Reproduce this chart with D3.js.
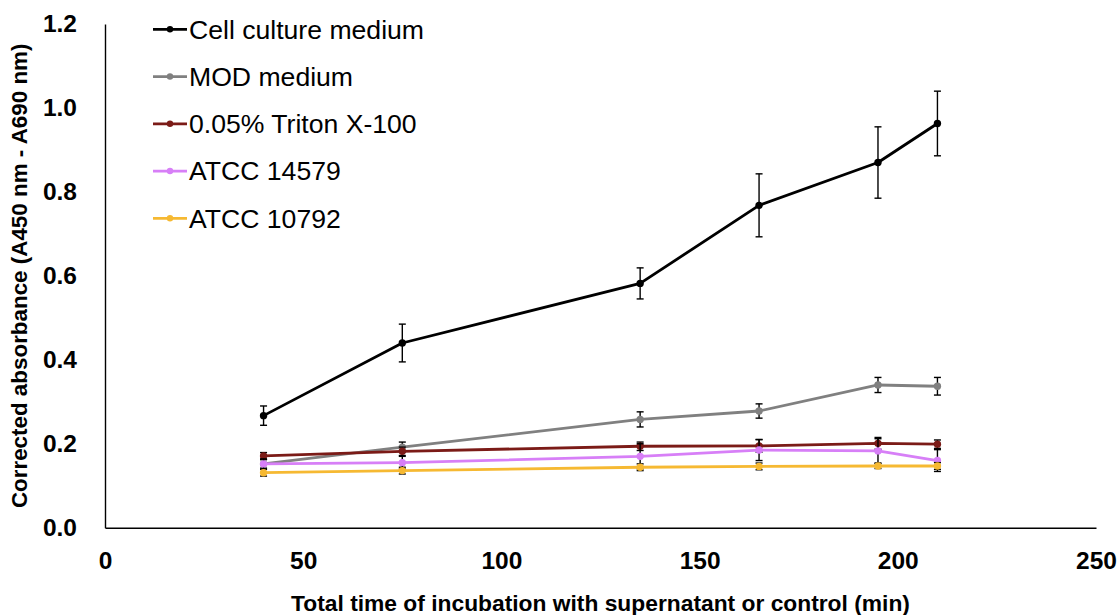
<!DOCTYPE html>
<html>
<head>
<meta charset="utf-8">
<script src="https://cdn.jsdelivr.net/npm/d3@7"></script>
<style>
  html, body { margin: 0; padding: 0; background: #fff; }
  svg { display: block; }
</style>
</head>
<body>
<svg id="chart" width="1120" height="615"></svg>
<script>
// Incubation time points (min)
const times = [40, 75, 135, 165, 195, 210];

// Mean corrected absorbance and error (SD) per condition
const cellCulture      = [0.267, 0.440, 0.582, 0.768, 0.870, 0.963];
const cellCultureErr   = [0.023, 0.045, 0.037, 0.075, 0.085, 0.077];
const modMedium        = [0.152, 0.192, 0.258, 0.278, 0.340, 0.337];
const modMediumErr     = [0.010, 0.012, 0.018, 0.017, 0.018, 0.021];
const triton           = [0.171, 0.182, 0.194, 0.195, 0.201, 0.199];
const tritonErr        = [0.008, 0.010, 0.010, 0.015, 0.014, 0.010];
const atcc14579        = [0.152, 0.155, 0.170, 0.185, 0.183, 0.160];
const atcc14579Err     = [0.012, 0.015, 0.030, 0.025, 0.029, 0.026];
const atcc10792        = [0.131, 0.136, 0.144, 0.146, 0.147, 0.147];
const atcc10792Err     = [0.008, 0.008, 0.008, 0.008, 0.006, 0.008];

const seriesNames  = ["Cell culture medium", "MOD medium", "0.05% Triton X-100", "ATCC 14579", "ATCC 10792"];
const seriesColors = ["#000000", "#808080", "#7b1b17", "#d77ff7", "#f6b932"];
const seriesValues = [cellCulture, modMedium, triton, atcc14579, atcc10792];
const seriesErrors = [cellCultureErr, modMediumErr, tritonErr, atcc14579Err, atcc10792Err];

const xTicks = [0, 50, 100, 150, 200, 250];
const yTicks = [0.0, 0.2, 0.4, 0.6, 0.8, 1.0, 1.2];

const svg = d3.select("#chart");
const FONT = "'Liberation Sans', Arial, sans-serif";

const x = d3.scaleLinear().domain([0, 250]).range([105, 1096]);
const y = d3.scaleLinear().domain([0, 1.2]).range([527.7, 24]);

// Axes (no tick marks, bold labels)
const xAxis = d3.axisBottom(x).tickValues(xTicks).tickSize(0).tickPadding(24)
  .tickFormat(d3.format("d"));
const yAxis = d3.axisLeft(y).tickValues(yTicks).tickSize(0).tickPadding(28)
  .tickFormat(d3.format(".1f"));

const gx = svg.append("g").attr("transform", `translate(0,${y(0)})`).call(xAxis);
const gy = svg.append("g").attr("transform", `translate(${x(0)},0)`).call(yAxis);
[gx, gy].forEach(g => {
  g.select(".domain").attr("stroke", "#000").attr("stroke-width", 1.4);
  g.selectAll("text").attr("font-family", FONT).attr("font-weight", "bold")
    .attr("font-size", 24.5).attr("fill", "#000");
});
gx.selectAll("text").attr("dy", "0.71em");

// Axis titles
svg.append("text")
  .attr("x", (x(0) + x(250)) / 2).attr("y", 611)
  .attr("text-anchor", "middle")
  .attr("font-family", FONT).attr("font-weight", "bold").attr("font-size", 22.8)
  .text("Total time of incubation with supernatant or control (min)");

svg.append("text")
  .attr("transform", `translate(27,${(y(0) + y(1.2)) / 2}) rotate(-90)`)
  .attr("text-anchor", "middle")
  .attr("font-family", FONT).attr("font-weight", "bold").attr("font-size", 22.4)
  .text("Corrected absorbance (A450 nm - A690 nm)");

// Series: line, error bars, markers
const line = d3.line().x(d => x(d.t)).y(d => y(d.v));
const plot = svg.append("g");

seriesNames.forEach((name, i) => {
  const pts = times.map((t, j) => ({ t, v: seriesValues[i][j], e: seriesErrors[i][j] }));
  const g = plot.append("g");

  g.append("path").datum(pts)
    .attr("d", line)
    .attr("fill", "none")
    .attr("stroke", seriesColors[i])
    .attr("stroke-width", 2.8)
    .attr("stroke-linejoin", "round");

  const eb = g.selectAll(".err").data(pts).join("g").attr("class", "err")
    .attr("stroke", "#000").attr("stroke-width", 1.4);
  eb.append("line")
    .attr("x1", d => x(d.t)).attr("x2", d => x(d.t))
    .attr("y1", d => y(d.v - d.e)).attr("y2", d => y(d.v + d.e));
  eb.append("line")
    .attr("x1", d => x(d.t) - 3.5).attr("x2", d => x(d.t) + 3.5)
    .attr("y1", d => y(d.v + d.e)).attr("y2", d => y(d.v + d.e));
  eb.append("line")
    .attr("x1", d => x(d.t) - 3.5).attr("x2", d => x(d.t) + 3.5)
    .attr("y1", d => y(d.v - d.e)).attr("y2", d => y(d.v - d.e));

  g.selectAll("circle").data(pts).join("circle")
    .attr("cx", d => x(d.t)).attr("cy", d => y(d.v))
    .attr("r", 3.7)
    .attr("fill", seriesColors[i]);
});

// Legend
const legend = svg.append("g").attr("transform", "translate(153,29.3)");
seriesNames.forEach((name, i) => {
  const row = legend.append("g").attr("transform", `translate(0,${i * 47.25})`);
  row.append("line").attr("x1", 0).attr("x2", 34).attr("y1", 0).attr("y2", 0)
    .attr("stroke", seriesColors[i]).attr("stroke-width", 2.7);
  row.append("circle").attr("cx", 17).attr("cy", 0).attr("r", 3.2).attr("fill", seriesColors[i]);
  row.append("text").attr("x", 36).attr("y", 0).attr("dy", "0.35em")
    .attr("font-family", FONT).attr("font-size", 26.6).attr("fill", "#000")
    .text(name);
});
</script>
</body>
</html>
